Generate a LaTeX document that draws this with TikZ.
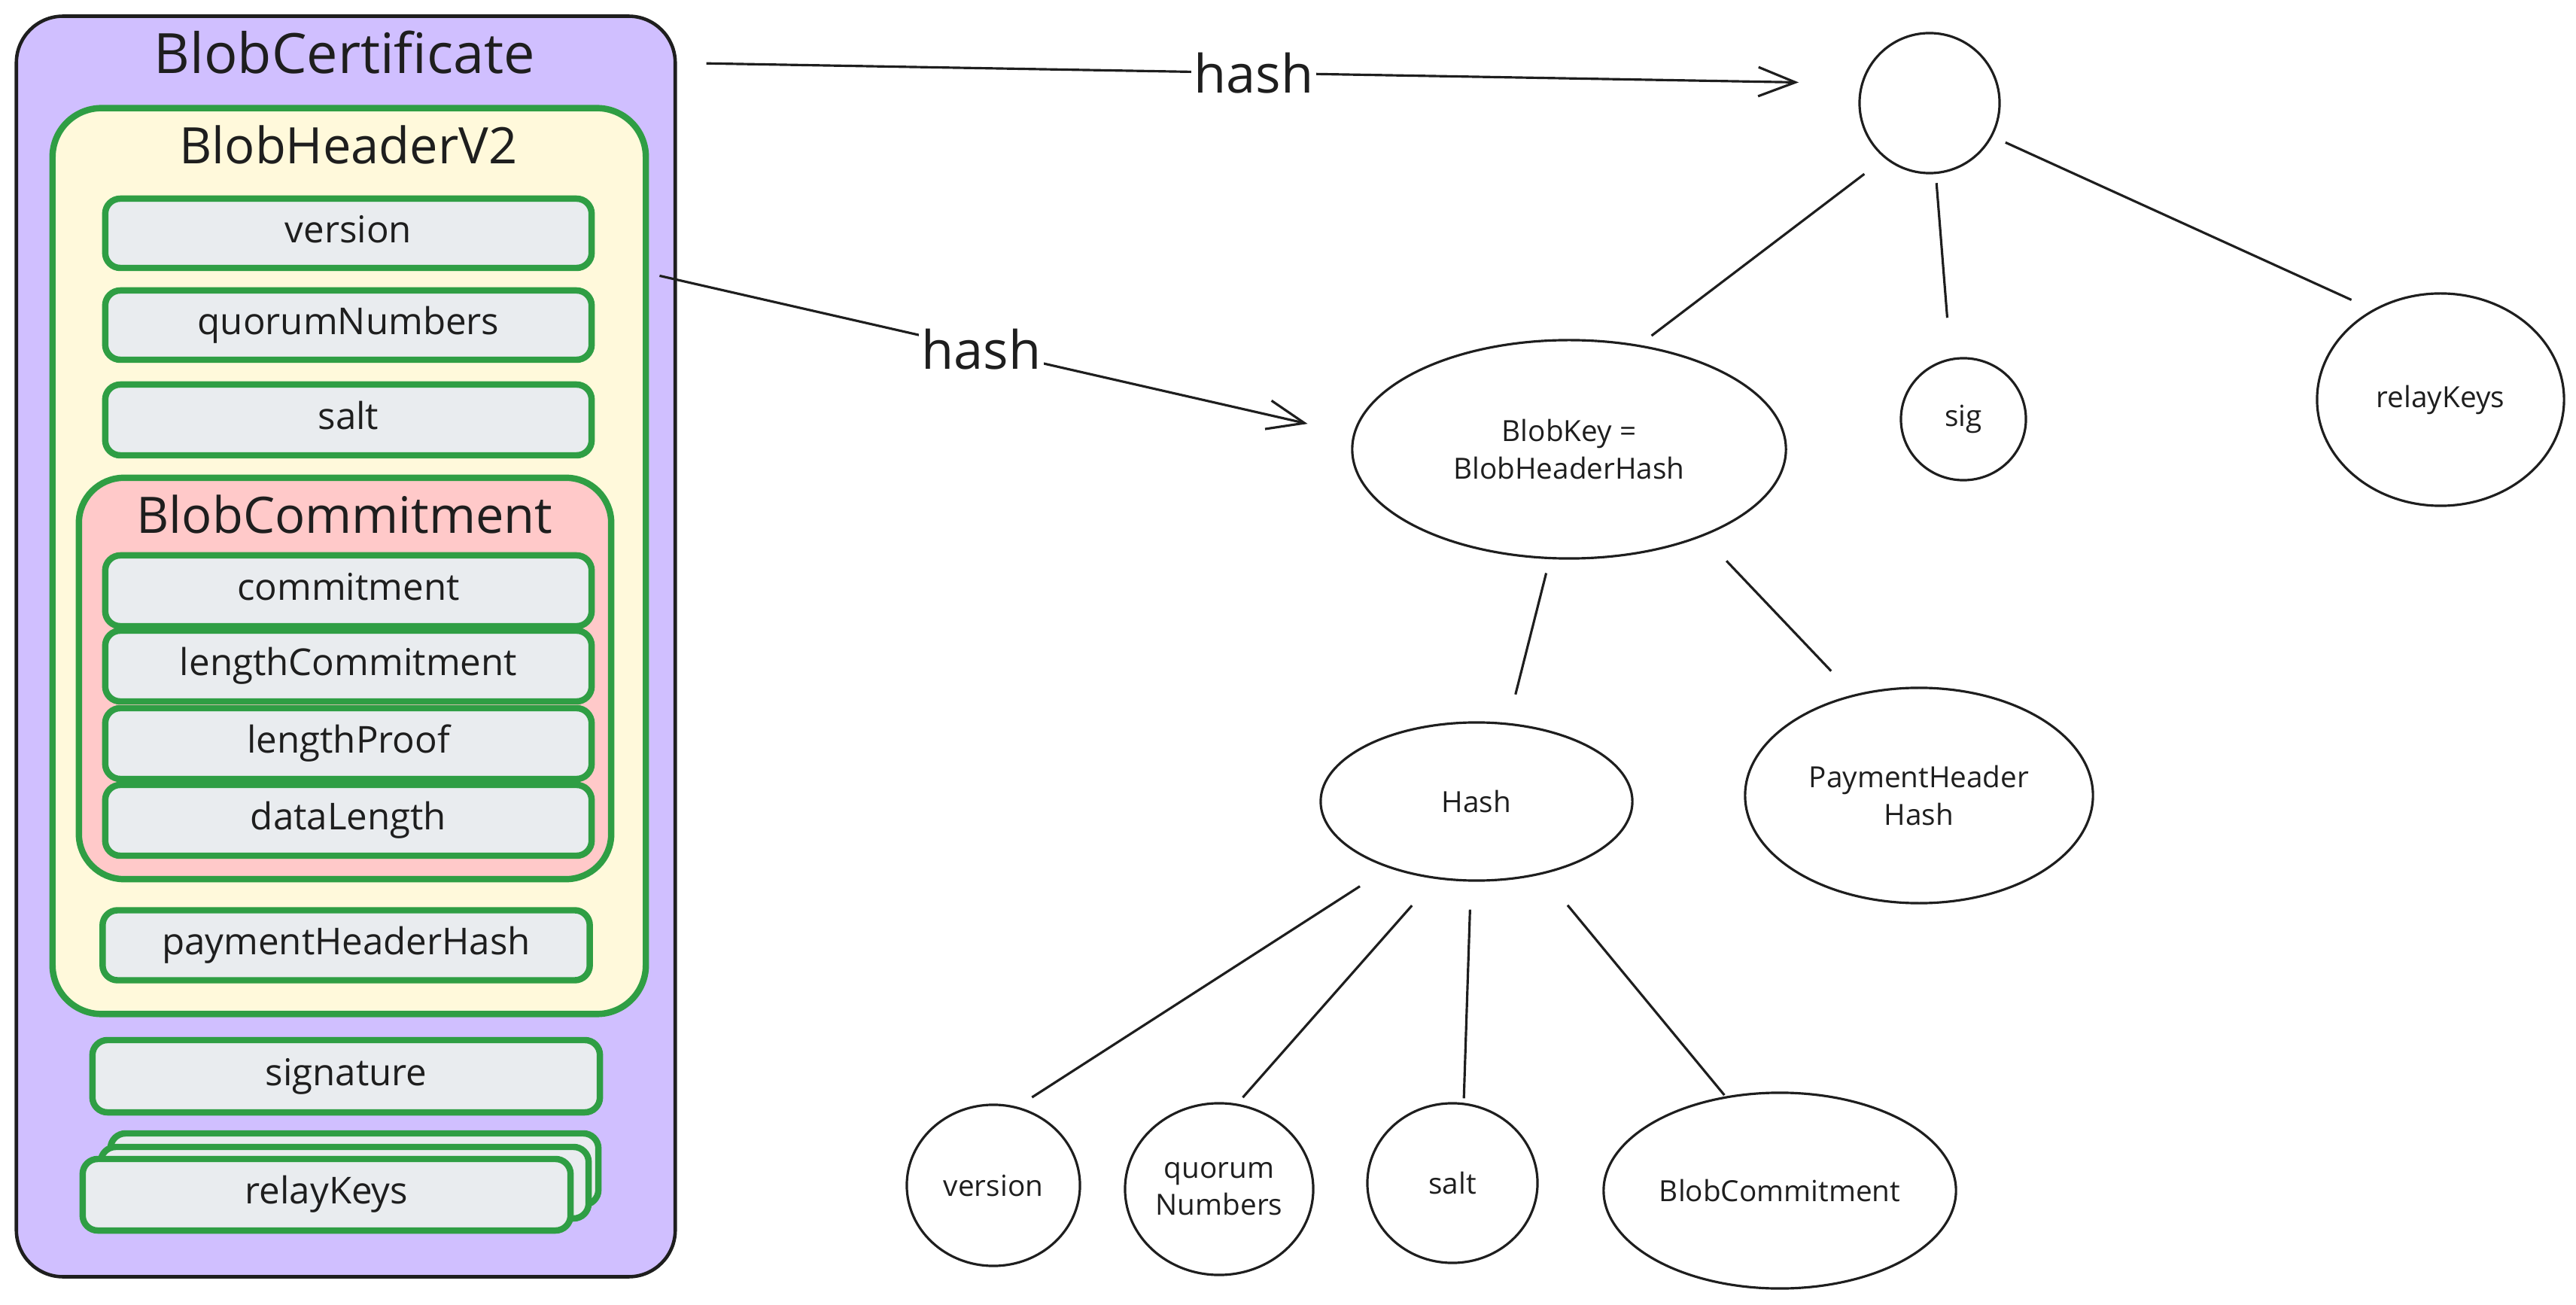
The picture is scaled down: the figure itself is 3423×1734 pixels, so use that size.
\documentclass[tikz,border=0pt]{standalone}
\usepackage{fontspec}
\setmainfont{Open Sans}
\usetikzlibrary{arrows.meta,calc,shapes.geometric}
\definecolor{ink}{HTML}{1E1E1E}
\definecolor{violetbg}{HTML}{D0BFFF}
\definecolor{grn}{HTML}{2F9E44}
\definecolor{yel}{HTML}{FFF9DB}
\definecolor{pnk}{HTML}{FFC9C9}
\definecolor{gry}{HTML}{E9ECEF}
\begin{document}
\begin{tikzpicture}[x=0.01cm,y=-0.01cm,
  field/.style={draw=grn, line width=2.4pt, fill=gry, rounded corners=0.2cm,
    minimum width=6.46cm, minimum height=0.92cm, inner sep=0pt,
    font=\fontsize{14}{16}\selectfont, text=ink, text height=0.85em, text depth=0.16em},
  boxtitle/.style={font=\fontsize{19}{22}\selectfont, text=ink, inner sep=0pt},
  tnode/.style={draw=ink, line width=0.9pt, ellipse, inner sep=0pt,
    font=\fontsize{11}{14}\selectfont, align=center, text=ink},
  tline/.style={draw=ink, line width=0.9pt},
  harrow/.style={draw=ink, line width=0.9pt, -{Straight Barb[length=14pt,width=11pt]}},
  hlabel/.style={fill=white, inner sep=1pt, font=\fontsize{20}{24}\selectfont, text=ink}
]
\useasboundingbox (0,0) rectangle (3423,1734);

% ---------- left structure ----------
\node[draw=ink, line width=1.3pt, fill=violetbg, rounded corners=0.62cm,
  minimum width=8.75cm, minimum height=16.74cm, inner sep=0pt] (cert) at (459.5,859) {};
\node[boxtitle, font=\fontsize{21}{24}\selectfont] (certT) at (458,70) {BlobCertificate};

\node[draw=grn, line width=2.4pt, fill=yel, rounded corners=0.65cm,
  minimum width=7.88cm, minimum height=12.03cm, inner sep=0pt] (hdr) at (464,745.5) {};
\node[boxtitle] (hdrT) at (463,192) {BlobHeaderV2};

\node[field] (fver) at (463,310) {version};
\node[field] (fquo) at (463,432) {quorumNumbers};
\node[field, minimum height=0.94cm] (fsalt) at (463,558) {salt};

\node[draw=grn, line width=2.4pt, fill=pnk, rounded corners=0.6cm,
  minimum width=7.07cm, minimum height=5.33cm, inner sep=0pt] (bc) at (458.5,901.5) {};
\node[boxtitle] (bcT) at (458,683) {BlobCommitment};

\node[field, minimum height=0.94cm] (fcom) at (463,785) {commitment};
\node[field, minimum height=0.94cm] (flc) at (463,885) {lengthCommitment};
\node[field, minimum height=0.94cm] (flp) at (463,988) {lengthProof};
\node[field, minimum height=0.94cm] (fdl) at (463,1090) {dataLength};

\node[field, minimum width=6.47cm, minimum height=0.93cm] (fphh) at (460,1256) {paymentHeaderHash};
\node[field, minimum width=6.74cm, minimum height=0.96cm] (fsig) at (460,1430) {signature};

\node[field, minimum width=6.48cm, minimum height=0.95cm] (frk3) at (471,1553.5) {};
\node[field, minimum width=6.48cm, minimum height=0.95cm] (frk2) at (458,1571.5) {};
\node[field, minimum width=6.48cm, minimum height=0.95cm] (frk) at (434,1587.5) {relayKeys};

% ---------- tree ----------
\node[tnode, minimum width=1.86cm, minimum height=1.86cm] (root) at (2564,137) {};
\node[tnode, minimum width=5.76cm, minimum height=2.90cm] (bk) at (2085,597) {BlobKey =\\BlobHeaderHash};
\node[tnode, minimum width=1.66cm, minimum height=1.62cm] (sig) at (2609,557) {sig};
\node[tnode, minimum width=3.28cm, minimum height=2.82cm] (rk) at (3243,531) {relayKeys};
\node[tnode, minimum width=4.14cm, minimum height=2.10cm] (hash) at (1962,1065) {Hash};
\node[tnode, minimum width=4.62cm, minimum height=2.86cm] (ph) at (2550,1057) {PaymentHeader\\Hash};
\node[tnode, minimum width=2.30cm, minimum height=2.14cm] (ver) at (1320,1575) {version};
\node[tnode, minimum width=2.50cm, minimum height=2.28cm] (quo) at (1620,1580) {quorum\\Numbers};
\node[tnode, minimum width=2.26cm, minimum height=2.12cm] (salt) at (1930,1572) {salt};
\node[tnode, minimum width=4.68cm, minimum height=2.60cm] (bcn) at (2365,1582) {BlobCommitment};

\draw[tline, shorten <=0.34cm, shorten >=0.20cm] (root.231) -- (bk.56);
\draw[tline, shorten <=0.12cm, shorten >=0.54cm] (root.275) -- (sig.102);
\draw[tline, shorten <=0.19cm, shorten >=0.31cm] (root.332) -- (rk.127);
\draw[tline, shorten <=0.19cm, shorten >=0.39cm] (bk.260) -- (hash.68);
\draw[tline, shorten <=0.45cm, shorten >=0.43cm] (bk.327) -- (ph.123);
\draw[tline, shorten <=0.45cm, shorten >=0.23cm] (hash.217) -- (ver.73);
\draw[tline, shorten <=0.47cm, shorten >=0.11cm] (hash.242) -- (quo.78);
\draw[tline, shorten <=0.37cm, shorten >=0.06cm] (hash.266) -- (salt.82);
\draw[tline, shorten <=0.53cm, shorten >=0.02cm] (hash.312) -- (bcn.120);

% ---------- hash arrows ----------
\draw[harrow, shorten >=0.83cm] ($(cert.north east)+(39,65)$) -- node[hlabel, pos=0.474] (h1) {hash} (root.164);
\draw[harrow, shorten >=0.62cm] ($(hdr.north east)+(14,227)$) -- node[hlabel, pos=0.464] (h2) {hash} (bk.176);
\end{tikzpicture}
\end{document}
